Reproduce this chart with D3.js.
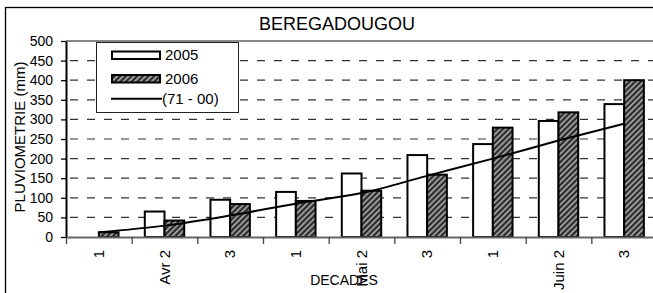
<!DOCTYPE html>
<html>
<head>
<meta charset="utf-8">
<script src="https://cdn.jsdelivr.net/npm/d3@7"></script>
<style>
  body { margin: 0; background: #fff; }
  svg { font-family: "Liberation Sans", Arial, sans-serif; }
</style>
</head>
<body>
<div class="chart"></div>
<script>
const svgWidth = 653;
const svgHeight = 293;

// decades (april - june)
const categories = ['1', 'Avr 2', '3', '1', 'Mai 2', '3', '1', 'Juin 2', '3'];
const rain2005 = [0, 65, 95, 115, 162, 209, 237, 296, 339];
const rain2006 = [12, 42, 84, 92, 118, 159, 279, 318, 400];
const normal7100 = [12, 29, 55, 85, 112, 156, 200, 246, 289];
const yTicks = [0, 50, 100, 150, 200, 250, 300, 350, 400, 450, 500];

const margin = { top: 41, left: 66, bottom: 56 };
const plotRight = 657;
const height = svgHeight - margin.top - margin.bottom;

const svg = d3.select('.chart')
  .append('svg')
  .attr('width', svgWidth)
  .attr('height', svgHeight);

// hatch pattern for 2006
const defs = svg.append('defs');
const pat = defs.append('pattern')
  .attr('id', 'hatch')
  .attr('patternUnits', 'userSpaceOnUse')
  .attr('width', 4)
  .attr('height', 4)
  .attr('patternTransform', 'rotate(45)');
pat.append('rect').attr('width', 4).attr('height', 4).attr('fill', '#2b2b2b');
pat.append('rect').attr('x', 0).attr('width', 1.6).attr('height', 4).attr('fill', '#b0b0b0');

// outer frame
svg.append('rect')
  .attr('x', 5.5).attr('y', 7.5)
  .attr('width', 700).attr('height', 300)
  .attr('fill', 'none')
  .attr('stroke', '#000')
  .attr('stroke-width', 1.3);

svg.append('text')
  .attr('x', 337)
  .attr('y', 30)
  .attr('text-anchor', 'middle')
  .attr('font-size', 18)
  .text('BEREGADOUGOU');

const x = d3.scaleBand()
  .domain(d3.range(categories.length))
  .range([margin.left, plotRight]);

const xEdges = d3.scaleLinear()
  .domain([0, categories.length])
  .range([margin.left, plotRight]);

const y = d3.scaleLinear()
  .domain([0, 500])
  .range([margin.top + height, margin.top]);

const barW = x.bandwidth() * 0.3;

// gridlines
svg.append('g')
  .selectAll('line')
  .data(yTicks.filter(d => d > 0 && d < 500))
  .enter()
  .append('line')
  .attr('x1', margin.left)
  .attr('x2', plotRight)
  .attr('y1', d => y(d))
  .attr('y2', d => y(d))
  .attr('stroke', '#333')
  .attr('stroke-width', 1.2)
  .attr('stroke-dasharray', '8,9')
  .attr('stroke-dashoffset', -4);

// plot top border
svg.append('line')
  .attr('x1', margin.left).attr('x2', plotRight)
  .attr('y1', y(500)).attr('y2', y(500))
  .attr('stroke', '#888').attr('stroke-width', 2);

// bars
svg.append('g')
  .selectAll('rect')
  .data(rain2005)
  .enter()
  .append('rect')
  .attr('x', (d, i) => x(i) + x.bandwidth() / 2 - barW)
  .attr('y', d => y(d))
  .attr('width', barW)
  .attr('height', d => y(0) - y(d))
  .attr('fill', '#fff')
  .attr('stroke', d => d > 0 ? '#000' : 'none')
  .attr('stroke-width', 2);

svg.append('g')
  .selectAll('rect')
  .data(rain2006)
  .enter()
  .append('rect')
  .attr('x', (d, i) => x(i) + x.bandwidth() / 2)
  .attr('y', d => y(d))
  .attr('width', barW)
  .attr('height', d => y(0) - y(d))
  .attr('fill', 'url(#hatch)')
  .attr('stroke', '#000')
  .attr('stroke-width', 2);

// normal 71-00
const line = d3.line()
  .x((d, i) => x(i) + x.bandwidth() / 2)
  .y(d => y(d))
  .curve(d3.curveMonotoneX);

svg.append('path')
  .datum(normal7100)
  .attr('d', line)
  .attr('fill', 'none')
  .attr('stroke', '#000')
  .attr('stroke-width', 2);

// y axis
const yAxis = svg.append('g')
  .attr('transform', `translate(${margin.left}, 0)`)
  .call(d3.axisLeft(y).tickValues(yTicks).tickSize(5).tickPadding(8).tickSizeOuter(0));
yAxis.select('.domain').attr('stroke', '#000').attr('stroke-width', 2);
yAxis.selectAll('.tick line').attr('stroke', '#000').attr('stroke-width', 1.3);
yAxis.selectAll('text').attr('font-size', 14).attr('fill', '#000');

// x axis
const xAxis = svg.append('g')
  .attr('transform', `translate(0, ${y(0)})`)
  .call(d3.axisBottom(xEdges).tickValues(d3.range(categories.length + 1)).tickSize(7).tickFormat('').tickSizeOuter(0));
xAxis.select('.domain').attr('stroke', '#666').attr('stroke-width', 2);
xAxis.selectAll('.tick line').attr('stroke', '#444').attr('stroke-width', 1.3);

svg.append('g')
  .selectAll('text')
  .data(categories)
  .enter()
  .append('text')
  .attr('transform', (d, i) => `translate(${x(i) + x.bandwidth() / 2}, ${y(0) + 13}) rotate(-90)`)
  .attr('dy', '0.35em')
  .attr('text-anchor', 'end')
  .attr('font-size', 15)
  .text(d => d);

svg.append('text')
  .attr('x', 344)
  .attr('y', 285)
  .attr('text-anchor', 'middle')
  .attr('font-size', 14)
  .text('DECADES');

svg.append('text')
  .attr('transform', `translate(25, 137) rotate(-90)`)
  .attr('text-anchor', 'middle')
  .attr('font-size', 15)
  .text('PLUVIOMETRIE (mm)');

// legend
const legend = svg.append('g');
legend.append('rect')
  .attr('x', 96.5).attr('y', 42.5)
  .attr('width', 142).attr('height', 70)
  .attr('fill', '#fff')
  .attr('stroke', '#222')
  .attr('stroke-width', 1);

const legendItems = ['2005', '2006', '(71 - 00)'];
const legendY = [55, 78.5, 98.7];
legend.append('rect')
  .attr('x', 112).attr('y', 51.5).attr('width', 48).attr('height', 7.5)
  .attr('fill', '#fff').attr('stroke', '#000').attr('stroke-width', 2);
legend.append('rect')
  .attr('x', 112).attr('y', 75).attr('width', 48).attr('height', 7.5)
  .attr('fill', 'url(#hatch)').attr('stroke', '#000').attr('stroke-width', 2);
legend.append('line')
  .attr('x1', 111).attr('x2', 162).attr('y1', legendY[2]).attr('y2', legendY[2])
  .attr('stroke', '#000').attr('stroke-width', 2);
legend.selectAll('text.lg')
  .data(legendItems)
  .enter()
  .append('text')
  .attr('class', 'lg')
  .attr('x', (d, i) => i === 2 ? 162 : 165)
  .attr('y', (d, i) => legendY[i])
  .attr('dy', '0.36em')
  .attr('font-size', 15)
  .text(d => d);
</script>
</body>
</html>
